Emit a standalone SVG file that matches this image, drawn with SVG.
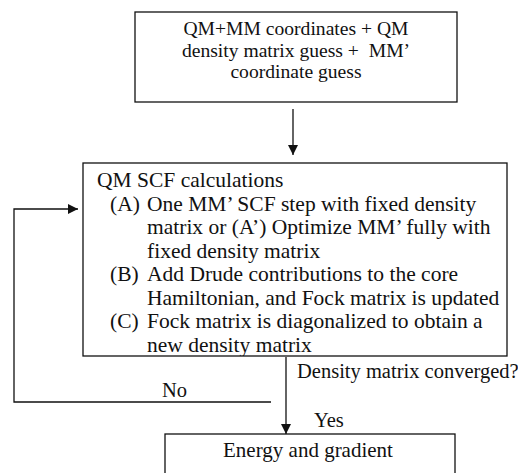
<svg xmlns="http://www.w3.org/2000/svg" width="518" height="473" viewBox="0 0 518 473">
<defs>
<style>
text{font-family:"Liberation Serif","Times New Roman",serif;font-size:20.5px;fill:#111}
.top{font-size:19.6px}
.mid{font-size:21.5px}
.bot{font-size:21px}
.box{fill:#fff;stroke:#111;stroke-width:1.3}
.c{text-anchor:middle}
.ln{fill:none;stroke:#111;stroke-width:1.3}
</style>
<marker id="ah" viewBox="0 0 10 10" refX="10" refY="5" markerWidth="10" markerHeight="10" markerUnits="userSpaceOnUse" orient="auto">
<path d="M0,0 L10,5 L0,10 z" fill="#111"/>
</marker>
<clipPath id="midclip"><rect x="83" y="163" width="424" height="193"/></clipPath>
</defs>
<g id="connectors">
<line class="ln" x1="293" y1="109" x2="293" y2="155" marker-end="url(#ah)"/>
<line class="ln" x1="286" y1="357" x2="286" y2="434" marker-end="url(#ah)"/>
<polyline class="ln" points="271,402 14,402 14,209 78,209" marker-end="url(#ah)"/>
<text x="297" y="378">Density matrix converged?</text>
<text x="162" y="397">No</text>
<text x="314" y="427">Yes</text>
</g>
<g id="start">
<rect class="box" x="135" y="12" width="322" height="90"/>
<text class="c top" x="296" y="35">QM+MM coordinates + QM</text>
<text class="c top" x="296" y="56.5" xml:space="preserve">density matrix guess +  MM’</text>
<text class="c top" x="296" y="78">coordinate guess</text>
</g>
<g id="scf">
<rect class="box" x="83" y="163" width="424" height="193"/>
<g clip-path="url(#midclip)">
<text class="mid" x="97" y="187">QM SCF calculations</text>
<text class="mid" x="110" y="210.5">(A)</text><text class="mid" x="147" y="210.5">One MM’ SCF step with fixed density</text>
<text class="mid" x="147" y="234">matrix or (A’) Optimize MM’ fully with</text>
<text class="mid" x="147" y="257.5">fixed density matrix</text>
<text class="mid" x="110" y="281">(B)</text><text class="mid" x="147" y="281">Add Drude contributions to the core</text>
<text class="mid" x="147" y="304.5">Hamiltonian, and Fock matrix is updated</text>
<text class="mid" x="110" y="328">(C)</text><text class="mid" x="147" y="328">Fock matrix is diagonalized to obtain a</text>
<text class="mid" x="147" y="351.5">new density matrix</text>
</g>
</g>
<g id="end">
<rect class="box" x="165" y="434" width="290" height="60"/>
<text class="c bot" x="308" y="457">Energy and gradient</text>
</g>
</svg>
